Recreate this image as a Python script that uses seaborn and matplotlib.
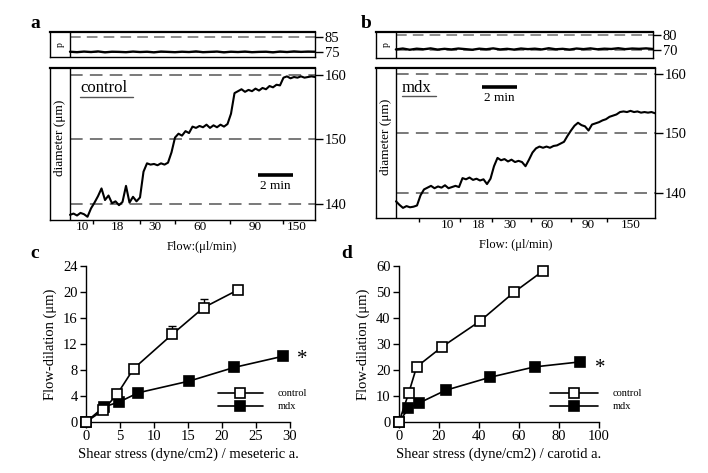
import numpy as np
import matplotlib
matplotlib.use("Agg")
import matplotlib.pyplot as plt
import seaborn as sns
from matplotlib.lines import Line2D

# ---------------- data ----------------
# panel a (control, mesenteric): diameter trace sampled every 0.2 min
a_step = 0.2
a_diameter = [138.3, 138.5, 138.2, 138.6, 138.4, 138.0, 139.3, 140.2, 141.2, 142.4,
              140.6, 141.3, 140.1, 140.4, 139.8, 140.3, 142.8, 140.2, 141.1, 140.4,
              141.0, 145.0, 146.3, 146.1, 146.2, 146.0, 146.3, 146.1, 146.4, 148.0,
              150.3, 150.9, 150.6, 151.3, 151.0, 152.0, 151.8, 152.1, 151.9, 152.3,
              151.8, 152.2, 151.9, 152.3, 152.0, 152.4, 154.0, 157.2, 157.5, 157.8,
              157.4, 157.7, 157.5, 157.9, 157.6, 158.0, 157.8, 158.3, 158.1, 158.5,
              158.4, 159.6, 159.8, 159.5, 159.7, 159.6, 159.8, 159.6, 159.7, 159.8,
              159.7]
# panel a: pressure trace sampled every 0.4 min
p_step = 0.4
a_pressure = [75.2, 74.9, 75.3, 75.0, 75.4, 74.8, 75.2, 75.1, 74.9, 75.3, 75.0, 75.2,
              74.8, 75.3, 75.1, 74.9, 75.2, 75.0, 75.4, 74.9, 75.1, 75.3, 74.8, 75.2,
              75.0, 75.3, 74.9, 75.1, 75.2, 74.8, 75.3, 75.0, 75.4, 75.1, 75.3, 75.2]
a_p_ticks = [75, 85]
a_d_ticks = [140, 150, 160]
a_flow_change = [1.31, 4.0, 6.0, 9.14, 12.17]          # min
a_flow_label_pos = [0.74, 2.69, 4.86, 7.43, 10.57, 12.97]
a_flow_labels = ["10", "18", "30", "60", "90", "150"]

# panel b (mdx, mesenteric)
b_diameter = [138.6, 138.0, 137.5, 137.8, 137.6, 137.7, 137.9, 139.6, 140.6, 140.9,
              141.2, 140.8, 141.1, 140.9, 141.3, 140.8, 141.0, 141.2, 141.0, 142.5,
              142.3, 142.6, 142.2, 142.4, 142.1, 142.3, 141.5, 142.4, 144.5, 145.9,
              145.5, 145.7, 145.3, 145.6, 145.2, 145.4, 145.2, 144.5, 145.6, 146.8,
              147.5, 147.8, 147.6, 147.8, 147.6, 147.9, 148.0, 148.3, 148.6, 149.6,
              150.5, 151.3, 151.8, 151.4, 151.2, 150.5, 151.5, 151.7, 151.9, 152.2,
              152.4, 152.8, 153.0, 153.2, 153.6, 153.7, 153.6, 153.8, 153.6, 153.7,
              153.5, 153.6, 153.5, 153.6, 153.4]
b_pressure = [70.4, 71.0, 70.2, 70.9, 70.5, 71.1, 70.3, 70.8, 70.4, 71.0, 70.6, 70.2,
              70.9, 70.5, 71.1, 70.4, 70.8, 70.3, 71.0, 70.6, 70.9, 70.4, 71.2, 70.5,
              70.8, 70.3, 71.0, 70.6, 71.1, 70.5, 70.9, 70.7, 71.2, 70.6, 71.0, 70.8,
              71.1, 70.7]
b_p_ticks = [70, 80]
b_d_ticks = [140, 150, 160]
b_flow_change = [1.31, 3.66, 5.49, 7.71, 10.0, 12.06]
b_flow_label_pos = [2.94, 4.7, 6.5, 8.6, 11.0, 13.43]
b_flow_labels = ["10", "18", "30", "60", "90", "150"]

# panel c: mesenteric artery
c_shear_control = [0, 2.5, 4.6, 7.0, 12.7, 17.3, 22.3]
c_dil_control = [0, 1.8, 4.3, 8.2, 13.5, 17.6, 20.3]
c_err_control = [0, 0, 0, 0, 1.2, 1.4, 0]
c_shear_mdx = [0, 2.6, 4.9, 7.7, 15.2, 21.8, 28.9]
c_dil_mdx = [0, 2.3, 3.1, 4.5, 6.3, 8.4, 10.1]
c_err_mdx = [0, 0, 0, 0, 0, 0.6, 0]

# panel d: carotid artery
d_shear_control = [0, 4.8, 8.8, 21.7, 40.5, 57.5, 72.0]
d_dil_control = [0, 11.0, 21.2, 29.0, 38.8, 49.9, 58.1]
d_shear_mdx = [0, 4.7, 10.0, 23.3, 45.5, 67.8, 90.3]
d_dil_mdx = [0, 5.2, 7.3, 12.2, 17.2, 21.2, 23.1]

# ---------------- style ----------------
sns.set_theme(style="ticks")
plt.rcParams["font.family"] = ["Liberation Serif", "DejaVu Serif"]
plt.rcParams["axes.edgecolor"] = "black"
plt.rcParams["axes.linewidth"] = 1.0
plt.rcParams["xtick.color"] = "black"
plt.rcParams["ytick.color"] = "black"
plt.rcParams["text.color"] = "black"
plt.rcParams["axes.labelcolor"] = "black"

W, H = 708, 473
fig = plt.figure(figsize=(W / 100, H / 100), dpi=100)
fig.patch.set_facecolor("white")


def px_axes(x0, y0, x1, y1):
    return fig.add_axes([x0 / W, 1 - y1 / H, (x1 - x0) / W, (y1 - y0) / H])


DASH = (0, (7, 4))
GREY = "#6e6e6e"
T_LEFT = -1.143


def trace_panels(axp, axd, diameter, pressure, p_ticks, p_lim, d_ticks, d_lim, t_end,
                 flow_change, flow_label_pos, flow_labels, name, name_pos, underline,
                 bar_t, bar_y, bar_text_y):
    t_d = np.round(np.arange(len(diameter)) * a_step, 2)
    t_p = np.round(np.arange(len(pressure)) * p_step, 2)
    t_p = np.minimum(t_p, t_end)
    # pressure box
    axp.set_xlim(T_LEFT, t_end)
    axp.set_ylim(*p_lim)
    for v in p_ticks:
        axp.hlines(v, 0, t_end, colors=GREY, linestyles=DASH, lw=1.1, zorder=1)
    sns.lineplot(x=t_p, y=pressure, ax=axp, color="black", lw=1.7, legend=False, zorder=3)
    axp.axvline(0, color="black", lw=1.0)
    axp.yaxis.tick_right()
    axp.set_yticks(p_ticks)
    axp.set_xticks([])
    axp.tick_params(axis="y", direction="out", length=6, width=1, labelsize=10.5, pad=1)
    axp.set_xlabel("")
    axp.set_ylabel("")
    axp.text(T_LEFT / 2, np.mean(p_lim), "p", rotation=90, ha="center", va="center",
             fontsize=7)
    for s in axp.spines.values():
        s.set_visible(True)
    axp.spines["top"].set_linewidth(1.6)

    # diameter box
    axd.set_xlim(T_LEFT, t_end)
    axd.set_ylim(*d_lim)
    for v in d_ticks:
        axd.hlines(v, 0, t_end, colors=GREY, linestyles=DASH, lw=1.3, zorder=1)
    sns.lineplot(x=t_d, y=diameter, ax=axd, color="black", lw=1.5, legend=False, zorder=3)
    axd.axvline(0, color="black", lw=1.0)
    axd.yaxis.tick_right()
    axd.set_yticks(d_ticks)
    axd.tick_params(axis="y", direction="out", length=6, width=1, labelsize=10.5, pad=1)
    axd.set_xticks(flow_change)
    axd.set_xticklabels([])
    axd.tick_params(axis="x", which="major", direction="out", length=3, width=1)
    axd.set_xticks(flow_label_pos, minor=True)
    axd.set_xticklabels(flow_labels, minor=True)
    axd.tick_params(axis="x", which="minor", length=0, labelsize=9.5, pad=1)
    axd.set_xlabel("")
    axd.set_ylabel("")
    axd.text(T_LEFT / 2, np.mean(d_lim) + 1.0, "diameter (\u03bcm)", rotation=90,
             ha="center", va="center", fontsize=9.5)
    for s in axd.spines.values():
        s.set_visible(True)
    axd.spines["top"].set_linewidth(1.6)
    axd.text(name_pos[0], name_pos[1], name, transform=axd.transAxes, ha="left",
             va="center", fontsize=12)
    axd.add_line(Line2D([underline[0], underline[1]], [underline[2], underline[2]],
                        transform=axd.transAxes, color="#555555", lw=1.0))
    # 2 min scale bar
    axd.hlines(bar_y, bar_t, bar_t + 2.0, colors="black", lw=2.6)
    axd.text(bar_t + 1.0, bar_text_y, "2 min", ha="center", va="center", fontsize=9.5)


axa_p = px_axes(50, 32, 315, 57)
axa_d = px_axes(50, 68, 315, 220)
trace_panels(axa_p, axa_d, a_diameter, a_pressure, a_p_ticks, (71.7, 88.3),
             a_d_ticks, (137.5, 161.1), 14.0, a_flow_change, a_flow_label_pos,
             a_flow_labels, "control", (0.113, 0.868), (0.113, 0.313, 0.81),
             10.74, 144.5, 142.8)

axb_p = px_axes(376, 32, 653, 58)
axb_d = px_axes(376, 68, 655, 218)
trace_panels(axb_p, axb_d, b_diameter, b_pressure, b_p_ticks, (64.7, 82.0),
             b_d_ticks, (135.8, 161.0), 14.8, b_flow_change, b_flow_label_pos,
             b_flow_labels, "mdx", (0.093, 0.867), (0.093, 0.215, 0.81),
             4.91, 157.8, 156.0)

fig.text(202 / W, 1 - 247 / H, "Flow:(\u03bcl/min)", ha="center", va="center", fontsize=9)
fig.text(516 / W, 1 - 245 / H, "Flow: (\u03bcl/min)", ha="center", va="center", fontsize=9)


def dose_panel(ax, xc, yc, xm, ym, xmax, ymax, xstep, ystep, xlabel, legend_anchor,
               handlelen, star_pos, err_c=None, err_m=None):
    sns.lineplot(x=xc, y=yc, ax=ax, color="black", lw=1.2, marker="s", markersize=7.5,
                 markerfacecolor="white", markeredgecolor="black", markeredgewidth=1.2,
                 label="control", clip_on=False, zorder=4)
    sns.lineplot(x=xm, y=ym, ax=ax, color="black", lw=1.2, marker="s", markersize=7.5,
                 markerfacecolor="black", markeredgecolor="black", markeredgewidth=1.2,
                 label="mdx", clip_on=False, zorder=3)
    if err_c is not None:
        ax.errorbar(xc, yc, yerr=[[0] * len(err_c), err_c], fmt="none", ecolor="black",
                    elinewidth=1.0, capsize=3, zorder=2)
    if err_m is not None:
        ax.errorbar(xm, ym, yerr=[err_m, [0] * len(err_m)], fmt="none", ecolor="black",
                    elinewidth=1.0, capsize=3, zorder=2)
    ax.set_xlim(0, xmax)
    ax.set_ylim(0, ymax)
    ax.set_xticks(np.arange(0, xmax + 0.1, xstep))
    ax.set_yticks(np.arange(0, ymax + 0.1, ystep))
    ax.tick_params(direction="out", length=4, width=1, labelsize=10.5, pad=2)
    sns.despine(ax=ax)
    ax.set_xlabel(xlabel, fontsize=10.5, labelpad=3)
    ax.set_ylabel("Flow-dilation (\u03bcm)", fontsize=10.5, labelpad=4)
    ax.legend(loc="upper left", bbox_to_anchor=legend_anchor,
              bbox_transform=fig.transFigure, frameon=False, fontsize=7.5,
              handlelength=handlelen, handletextpad=1.4, labelspacing=0.35,
              borderpad=0, borderaxespad=0, numpoints=1)
    ax.text(star_pos[0], star_pos[1], "*", transform=ax.transAxes, fontsize=15,
            ha="center", va="center")


axc = px_axes(86, 266, 290, 422)
dose_panel(axc, c_shear_control, c_dil_control, c_shear_mdx, c_dil_mdx, 30, 24, 5, 4,
           "Shear stress (dyne/cm2) / meseteric a.", (218 / W, 1 - 389 / H), 4.3,
           ((302 - 86) / 204, 1 - (360 - 266) / 156), c_err_control, c_err_mdx)

axd2 = px_axes(399, 266, 599, 422)
dose_panel(axd2, d_shear_control, d_dil_control, d_shear_mdx, d_dil_mdx, 100, 60, 20, 10,
           "Shear stress (dyne/cm2) / carotid a.", (550 / W, 1 - 389 / H), 4.6,
           ((600 - 399) / 200, 1 - (368 - 266) / 156))

for lab, (x, y) in {"a": (35, 24), "b": (366, 24), "c": (35, 254), "d": (347, 254)}.items():
    fig.text(x / W, 1 - y / H, lab, ha="center", va="center", fontsize=14,
             fontweight="bold")

fig.savefig("out.png", dpi=100, facecolor="white")
